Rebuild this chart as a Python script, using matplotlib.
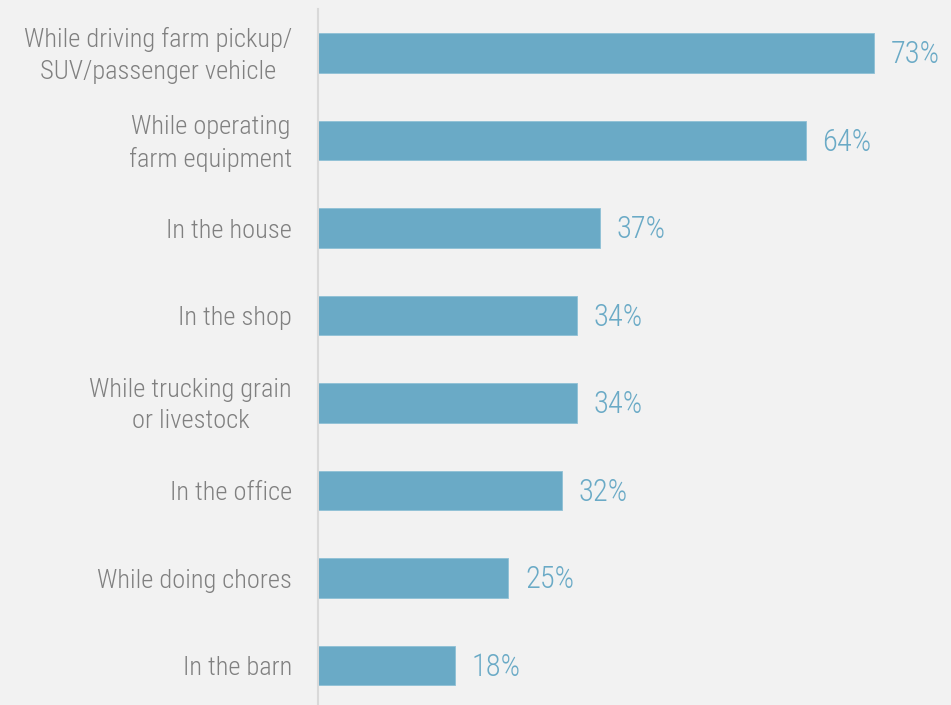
import matplotlib
matplotlib.use("Agg")
import matplotlib.pyplot as plt
from matplotlib import font_manager

categories = [
    "While driving farm pickup/\nSUV/passenger vehicle",
    "While operating\nfarm equipment",
    "In the house",
    "In the shop",
    "While trucking grain\nor livestock",
    "In the office",
    "While doing chores",
    "In the barn",
]
values = [73, 64, 37, 34, 34, 32, 25, 18]

BG = "#f2f2f2"
BAR = "#6aaac6"
LABEL = "#808080"

# prefer a narrow face if one is around
names = {f.name for f in font_manager.fontManager.ttflist}
family = "Liberation Sans"
for cand in ["Liberation Sans Narrow", "Arial Narrow", "Roboto Condensed",
             "Open Sans Condensed", "Roboto"]:
    if cand in names:
        family = cand
        break
plt.rcParams["font.family"] = [family, "DejaVu Sans"]
narrow = "Narrow" in family or "Condensed" in family
label_size = 19 if narrow else 18
value_size = 22 if narrow else 20

fig = plt.figure(figsize=(9.51, 7.05), dpi=100, facecolor=BG)
ax = fig.add_axes([0.3344, -0.006, 0.6656, 0.993], facecolor=BG)

y = range(len(categories))
ax.barh(y, values, height=0.45, color=BAR, edgecolor="#8fc0d6", linewidth=0.6)
ax.set_ylim(len(categories) - 0.5, -0.5)
ax.set_xlim(0, 83.1)

for yi, (name, v) in enumerate(zip(categories, values)):
    ax.text(-3.4, yi + 0.03, name, ha="right", va="center", multialignment="center",
            fontsize=label_size, color=LABEL, linespacing=1.4, fontweight="light")
    ax.text(v + 2.2, yi + 0.02, f"{v}%", ha="left", va="center",
            fontsize=value_size, color=BAR, fontweight="light")

ax.set_xticks([])
ax.set_yticks([])
for side in ("top", "right", "bottom"):
    ax.spines[side].set_visible(False)
ax.spines["left"].set_color("#d9d9d9")
ax.spines["left"].set_linewidth(1.5)

fig.savefig("out.png", dpi=100, facecolor=BG)
